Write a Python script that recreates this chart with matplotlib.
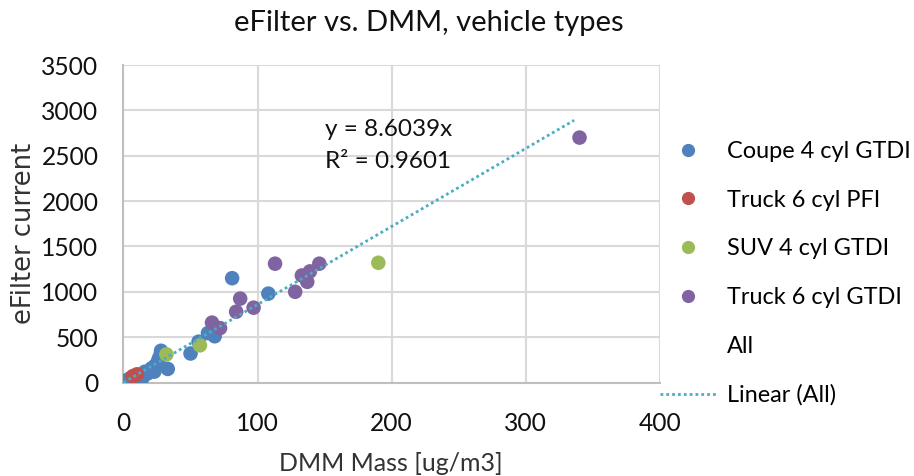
import numpy as np
import matplotlib
matplotlib.use("Agg")
import matplotlib.pyplot as plt
from matplotlib.lines import Line2D

plt.rcParams['font.family'] = ['Lato', 'DejaVu Sans']

# data
coupe_x = [1, 3, 5, 8, 11, 14, 16, 18, 21, 23, 24, 26, 27, 28, 29, 33, 50, 56, 63, 68, 81, 108]
coupe_y = [10, 30, 46, 60, 83, 46, 119, 100, 157, 120, 193, 248, 285, 350, 303, 150, 320, 450, 545, 510, 1150, 980]
truck_pfi_x = [7, 10]
truck_pfi_y = [70, 90]
suv_x = [32, 57, 190]
suv_y = [310, 410, 1320]
truck_gtdi_x = [66, 72, 84, 87, 97, 113, 128, 133, 137, 139, 146, 340]
truck_gtdi_y = [660, 600, 780, 925, 825, 1310, 1000, 1180, 1110, 1225, 1310, 2700]
slope = 8.6039
r2 = 0.9601
trend_x = [0, 336]

series = [("Coupe 4 cyl GTDI", coupe_x, coupe_y, '#4F81BD'),
          ("Truck 6 cyl PFI", truck_pfi_x, truck_pfi_y, '#C0504D'),
          ("SUV 4 cyl GTDI", suv_x, suv_y, '#9BBB59'),
          ("Truck 6 cyl GTDI", truck_gtdi_x, truck_gtdi_y, '#8064A2')]

fig = plt.figure(figsize=(9.14, 4.76), dpi=100)
ax = fig.add_axes([0.1351, 0.1964, 0.587, 0.667])

dots = (0, (1, 1.1))
handles = []
for name, xs, ys, col in series:
    ax.scatter(xs, ys, s=110, color=col, edgecolors='none', zorder=3)
    handles.append(Line2D([], [], ls='none', marker='o', ms=8.5, color=col, label=name))

tx = np.array(trend_x)
ax.plot(tx, slope * tx, ls=dots, lw=2, color='#4BACC6', zorder=4)
handles.append(Line2D([], [], ls='none', marker=None, label='All'))
handles.append(Line2D([], [], ls=dots, lw=2, color='#4BACC6', label='Linear (All)'))

ax.text(150, 2790, "y = %.4fx" % slope, fontsize=17.5, color='#111111', ha='left', va='center')
ax.text(150, 2440, "R² = %.4f" % r2, fontsize=17.5, color='#111111', ha='left', va='center')

ax.set_xlim(0, 400)
ax.set_ylim(0, 3500)
ax.set_xticks(range(0, 401, 100))
ax.set_yticks(range(0, 3501, 500))
ax.grid(True, color='#D9D9D9', lw=1.5)
ax.set_axisbelow(True)
for s in ['top', 'right']:
    ax.spines[s].set_visible(False)
for s in ['left', 'bottom']:
    ax.spines[s].set_color('#BFBFBF')
    ax.spines[s].set_linewidth(1.5)
ax.tick_params(length=0, labelsize=17.7, colors='#111111')
ax.tick_params(axis='y', pad=18)
ax.tick_params(axis='x', pad=21)

fig.text(0.428, 0.027, "DMM Mass [ug/m3]", fontsize=18, color='#333333', ha='center', va='center')
fig.text(0.026, 0.509, "eFilter current", family=['DejaVu Sans'], fontsize=18.5, color='#333333',
         rotation=90, ha='center', va='center')
fig.text(0.469, 0.952, "eFilter vs. DMM, vehicle types", fontsize=21, color='#111111', ha='center', va='center')

fig.legend(handles=handles, loc='upper left', bbox_to_anchor=(0.722, 0.704), frameon=False,
           fontsize=16.9, labelspacing=1.18, handlelength=2.43, handletextpad=0.43,
           borderpad=0, borderaxespad=0)

plt.savefig("out.png", dpi=100)
